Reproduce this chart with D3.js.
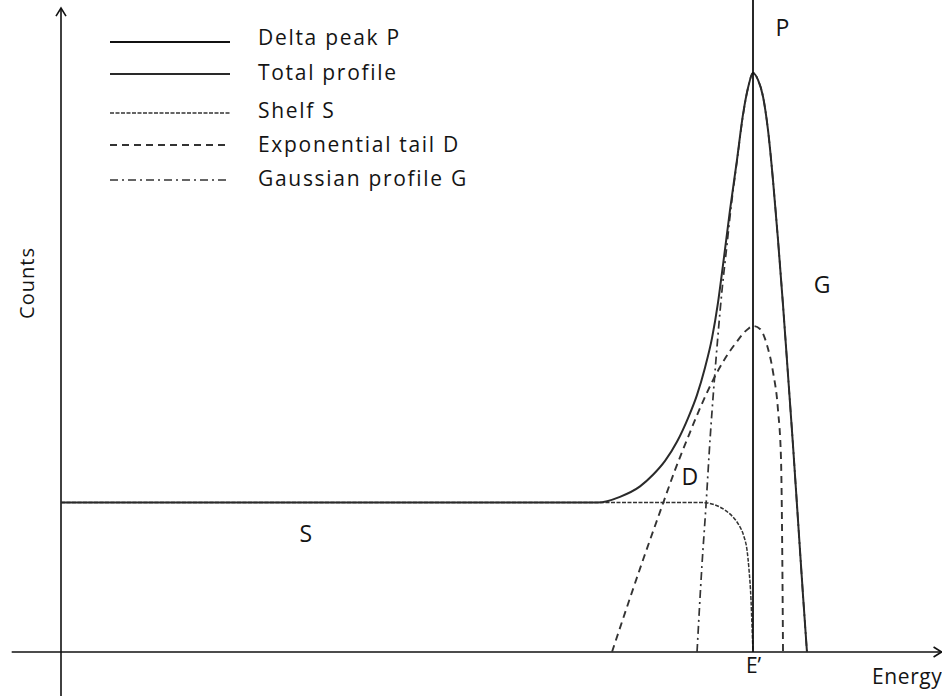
<!DOCTYPE html>
<html>
<head>
<meta charset="utf-8">
<script src="https://cdn.jsdelivr.net/npm/d3@7"></script>
<style>
  html, body { margin: 0; padding: 0; background: #fff; }
  svg { display: block; }
  text { font-family: "Open Sans", Lato, sans-serif; fill: #141414; }
</style>
</head>
<body>
<svg id="chart" width="942" height="696"></svg>
<script>
// legend labels, in drawing order
const legendLabels = ["Delta peak P", "Total profile", "Shelf S", "Exponential tail D", "Gaussian profile G"];

// curves: [energy, counts]  (E' = 80, peak height = 100)
const deltaPeak = [[80, 0], [80, 112.6]];
const peakRight = [
  [80.58, 98.8], [81.16, 95.9], [81.73, 90.2], [82.31, 81.5], [82.89, 71.2], [83.47, 59.9],
  [84.05, 47.8], [84.62, 35.8], [85.2, 22.8], [85.78, 9.8], [86.24, 0]
];
const totalProfile = [
  [0, 25.8], [62.08, 25.8], [64.62, 26.8], [66.94, 28.6], [68.44, 30.6], [69.83, 33.0],
  [71.21, 36.3], [72.49, 40.4], [73.53, 44.4], [74.45, 49.1], [75.26, 54.2], [75.95, 60.3],
  [76.53, 66.8], [77.34, 76.3], [78.15, 85.0], [78.84, 92.8], [79.42, 97.4], [80, 100],
  ...peakRight
];
const shelfS = [
  [0, 25.8], [74.22, 25.8], [75.61, 25.4], [76.76, 24.5], [77.69, 23.3], [78.38, 21.9],
  [78.96, 19.9], [79.31, 17.6], [79.54, 14.2], [79.77, 9.0], [79.88, 4.7], [80, 0]
];
const tailD = [
  [63.7, 0], [65.55, 8.3], [67.4, 16.4], [69.25, 24.2], [70.98, 31.4], [72.49, 37.1],
  [73.87, 42.1], [75.26, 46.6], [76.65, 50.4], [78.03, 53.4], [79.42, 55.8], [80, 56.3],
  [80.81, 55.8], [81.62, 53.0], [82.31, 48.4], [82.89, 41.8], [83.24, 33.2], [83.39, 15.9], [83.47, 0]
];
const gaussG = [
  [73.53, 0], [74.1, 15.0], [74.57, 25.4], [75.03, 36.6], [75.49, 46.1], [75.95, 54.7],
  [76.42, 62.5], [76.99, 70.3], [77.4, 76.0], [78.15, 84.8], [78.84, 92.6], [79.42, 97.4],
  [80, 100], ...peakRight
];
const curveLabels = [["P", 83.4, 106.4], ["G", 88.0, 62.0], ["D", 72.7, 28.8], ["S", 28.3, 19.0]];

const svg = d3.select("#chart");
const x = d3.scaleLinear().domain([0, 80]).range([61, 753]);
const y = d3.scaleLinear().domain([0, 112.6]).range([652, 0]);

const line = d3.line().x(d => x(d[0])).y(d => y(d[1])).curve(d3.curveMonotoneX);

const styles = [
  { dash: null, w: 1.8, c: "#111" },
  { dash: null, w: 2, c: "#2a2a2a" },
  { dash: "4,1.5", w: 1.5, c: "#333" },
  { dash: "7,5", w: 1.9, c: "#333" },
  { dash: "8,4,2,4", w: 1.7, c: "#333" }
];
const legLineY = [42, 74, 113, 145, 180];
const legTextY = [45, 80, 118, 152, 186];

// axes with open arrow heads
const ax = svg.append("g").attr("stroke", "#111").attr("stroke-width", 1.6).attr("fill", "none");
ax.append("line").attr("x1", x(0)).attr("x2", x(0)).attr("y1", y(-7.6)).attr("y2", y(111.2));
ax.append("path").attr("d", `M${x(0) - 5},${y(111.2) + 8}L${x(0)},${y(111.2)}L${x(0) + 5},${y(111.2) + 8}`);
ax.append("line").attr("x1", x(-5.7)).attr("x2", x(101.8)).attr("y1", y(0)).attr("y2", y(0));
ax.append("path").attr("d", `M${x(101.8) - 8},${y(0) - 5}L${x(101.8)},${y(0)}L${x(101.8) - 8},${y(0) + 5}`);

// E' tick label
const xa = svg.append("g").attr("transform", `translate(0,${y(0)})`)
  .call(d3.axisBottom(x).tickValues([80]).tickSize(0).tickPadding(6).tickFormat(() => "E\u2019"));
xa.select(".domain").remove();
xa.selectAll("text").attr("font-size", 21).attr("font-family", "'Open Sans', sans-serif").attr("fill", "#141414");

// curves
const series = [deltaPeak, totalProfile, shelfS, tailD, gaussG];
const order = [2, 3, 4, 1, 0];
order.forEach(i => {
  svg.append("path").datum(series[i])
    .attr("d", i === 0 ? d3.line().x(d => x(d[0])).y(d => y(d[1])) : line)
    .attr("fill", "none")
    .attr("stroke", styles[i].c)
    .attr("stroke-width", styles[i].w)
    .attr("stroke-dasharray", styles[i].dash);
});

// legend
const lg = svg.append("g");
legendLabels.forEach((t, i) => {
  lg.append("line").attr("x1", 110).attr("x2", 230).attr("y1", legLineY[i]).attr("y2", legLineY[i])
    .attr("stroke", styles[i].c).attr("stroke-width", styles[i].w).attr("stroke-dasharray", styles[i].dash);
  lg.append("text").attr("x", 258).attr("y", legTextY[i]).attr("font-size", 21)
    .attr("letter-spacing", 1.7).text(t);
});

// in-plot labels
curveLabels.forEach(d => {
  svg.append("text").attr("x", x(d[1])).attr("y", y(d[2])).attr("text-anchor", "middle")
    .attr("font-size", 23).text(d[0]);
});

// axis titles (the reference clips "Energy" at the right edge)
svg.append("text").attr("x", 872).attr("y", 684).attr("font-size", 21).attr("letter-spacing", 0.6).text("Energy");
svg.append("text").attr("transform", "translate(34,283) rotate(-90)").attr("text-anchor", "middle")
  .attr("font-size", 20).attr("letter-spacing", 1).text("Counts");
</script>
</body>
</html>
